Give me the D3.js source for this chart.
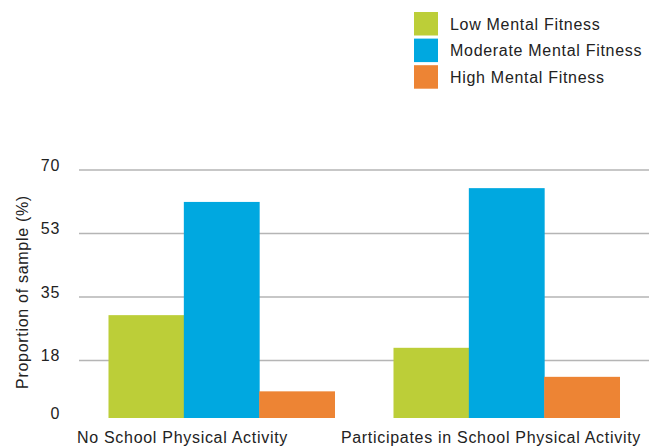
<!DOCTYPE html>
<html>
<head>
<meta charset="utf-8">
<script src="https://cdn.jsdelivr.net/npm/d3@7"></script>
<style>
  body { margin: 0; background: #fff; }
  text { font-family: "Liberation Sans", Arial, sans-serif; fill: #222; }
  .label { font-size: 16px; letter-spacing: 0.7px; }
</style>
</head>
<body>
<div id="chart"></div>
<script>
const width = 653;
const height = 446;

// data
const groups = ["No School Physical Activity", "Participates in School Physical Activity"];
const series = ["Low Mental Fitness", "Moderate Mental Fitness", "High Mental Fitness"];
const lowValues = [30.0, 21.0];
const moderateValues = [61.2, 65.0];
const highValues = [9.0, 13.0];
const tickValues = [0, 17.5, 35, 52.5, 70];
const tickLabels = ["0", "18", "35", "53", "70"];
const colors = ["#bcce38", "#00a8e0", "#ed8434"];

const values = [lowValues, moderateValues, highValues];

const plot = { left: 79, right: 649, top: 170, bottom: 424, floor: 418 };

const svg = d3.select("#chart")
    .append("svg")
    .attr("width", width)
    .attr("height", height);

const y = d3.scaleLinear()
    .domain([0, 70])
    .range([plot.bottom, plot.top]);

const x0 = d3.scaleBand()
    .domain(groups)
    .range([plot.left, plot.right])
    .paddingInner(0.207)
    .paddingOuter(0.1035);

const x1 = d3.scaleBand()
    .domain(series)
    .range([0, x0.bandwidth()]);

// gridlines (no line at zero)
svg.append("g")
    .selectAll("line")
    .data(tickValues.filter(d => d > 0))
    .join("line")
    .attr("x1", plot.left)
    .attr("x2", plot.right)
    .attr("y1", d => y(d))
    .attr("y2", d => y(d))
    .attr("stroke", "#b5b5b5")
    .attr("stroke-width", 1.5);

// y tick labels
svg.append("g")
    .selectAll("text")
    .data(tickValues)
    .join("text")
    .attr("class", "label")
    .attr("x", 60)
    .attr("y", d => Math.min(y(d), plot.floor) - 5)
    .attr("dy", "0.35em")
    .attr("text-anchor", "end")
    .text((d, i) => tickLabels[i]);

// y title
svg.append("text")
    .attr("class", "label")
    .attr("transform", "translate(22," + 292 + ") rotate(-90)")
    .attr("text-anchor", "middle")
    .attr("dy", "0.35em")
    .attr("fill", "#333")
    .text("Proportion of sample (%)");

// bars
const gGroups = svg.append("g")
    .selectAll("g")
    .data(groups)
    .join("g")
    .attr("transform", d => "translate(" + x0(d) + ",0)");

gGroups.selectAll("rect")
    .data((g, gi) => series.map((s, si) => ({ s: s, si: si, v: values[si][gi] })))
    .join("rect")
    .attr("x", d => x1(d.s))
    .attr("width", x1.bandwidth() + 0.5)
    .attr("y", d => y(d.v))
    .attr("height", d => plot.floor - y(d.v))
    .attr("fill", d => colors[d.si]);

// x labels, edge labels aligned to the plot edges
svg.append("g")
    .selectAll("text")
    .data(groups)
    .join("text")
    .attr("class", "label")
    .attr("x", (d, i) => i === 0 ? plot.left - 2 : plot.right - 8)
    .attr("y", 443)
    .attr("text-anchor", (d, i) => i === 0 ? "start" : "end")
    .text(d => d);

// legend
const legend = svg.append("g")
    .attr("transform", "translate(414,12)");

const items = legend.selectAll("g")
    .data(series)
    .join("g")
    .attr("transform", (d, i) => "translate(0," + (i * 26.6) + ")");

items.append("rect")
    .attr("width", 24)
    .attr("height", 23.5)
    .attr("fill", (d, i) => colors[i]);

items.append("text")
    .attr("class", "label")
    .attr("x", 36)
    .attr("y", 12)
    .attr("dy", "0.35em")
    .text(d => d);
</script>
</body>
</html>
